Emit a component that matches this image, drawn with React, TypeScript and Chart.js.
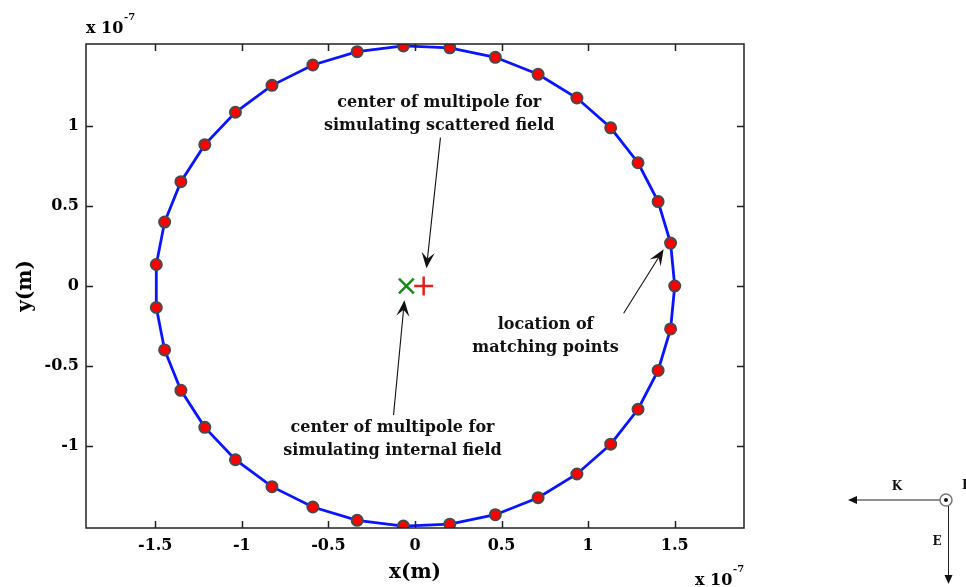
import React, { useEffect, useRef } from "react";
import { Chart, registerables } from "chart.js";

Chart.register(...registerables);

// Axis ticks (units of 1e-7 m)
const X_TICKS = [-1.5, -1, -0.5, 0, 0.5, 1, 1.5];
const Y_TICKS = [-1, -0.5, 0, 0.5, 1];
const X_RANGE = [-1.9, 1.9];
const Y_RANGE = [-1.51, 1.51];

// Matching points on the particle surface (x 1e-7 m)
const MATCH_X = [
  1.5, 1.476, 1.404, 1.288, 1.13, 0.935, 0.711, 0.464, 0.201, -0.067, -0.334, -0.59,
  -0.826, -1.037, -1.214, -1.352, -1.446, -1.494, -1.494, -1.446, -1.352, -1.214,
  -1.037, -0.826, -0.59, -0.334, -0.067, 0.201, 0.464, 0.711, 0.935, 1.13, 1.288,
  1.404, 1.476,
];
const MATCH_Y = [
  0, 0.268, 0.527, 0.769, 0.987, 1.173, 1.321, 1.427, 1.486, 1.498, 1.462, 1.379,
  1.252, 1.084, 0.882, 0.651, 0.399, 0.134, -0.134, -0.399, -0.651, -0.882, -1.084,
  -1.252, -1.379, -1.462, -1.498, -1.486, -1.427, -1.321, -1.173, -0.987, -0.769,
  -0.527, -0.268,
];

// Multipole centres
const SCATTERED_CENTER = { x: 0.05, y: 0 };
const INTERNAL_CENTER = { x: -0.05, y: 0 };

const FONT = '"DejaVu Serif", "Liberation Serif", serif';

type Note = { lines: string[]; x: number; y: number };
type Arr = { x1: number; y1: number; x2: number; y2: number };

const NOTES: Note[] = [
  { lines: ["center of multipole for", "simulating scattered field"], x: 0.14, y: 1.143 },
  { lines: ["location of", "matching points"], x: 0.754, y: -0.245 },
  { lines: ["center of multipole for", "simulating internal field"], x: -0.13, y: -0.887 },
];
const ARROWS: Arr[] = [
  { x1: 0.147, y1: 0.926, x2: 0.066, y2: 0.11 },
  { x1: 1.205, y1: -0.17, x2: 1.436, y2: 0.229 },
  { x1: -0.124, y1: -0.806, x2: -0.061, y2: -0.089 },
];

function barbedArrow(ctx: CanvasRenderingContext2D, x1: number, y1: number, x2: number, y2: number) {
  const a = Math.atan2(y2 - y1, x2 - x1);
  const L = 16;
  const W = 6.5;
  const N = 0.6;
  const c = Math.cos(a);
  const s = Math.sin(a);
  ctx.beginPath();
  ctx.moveTo(x1, y1);
  ctx.lineTo(x2 - N * L * c, y2 - N * L * s);
  ctx.stroke();
  ctx.beginPath();
  ctx.moveTo(x2, y2);
  ctx.lineTo(x2 - L * c + W * s, y2 - L * s - W * c);
  ctx.lineTo(x2 - N * L * c, y2 - N * L * s);
  ctx.lineTo(x2 - L * c - W * s, y2 - L * s + W * c);
  ctx.closePath();
  ctx.fill();
}

function simpleArrow(ctx: CanvasRenderingContext2D, x1: number, y1: number, x2: number, y2: number) {
  const a = Math.atan2(y2 - y1, x2 - x1);
  const L = 9;
  const W = 4;
  const c = Math.cos(a);
  const s = Math.sin(a);
  ctx.beginPath();
  ctx.moveTo(x1, y1);
  ctx.lineTo(x2 - L * c, y2 - L * s);
  ctx.stroke();
  ctx.beginPath();
  ctx.moveTo(x2, y2);
  ctx.lineTo(x2 - L * c + W * s, y2 - L * s - W * c);
  ctx.lineTo(x2 - L * c - W * s, y2 - L * s + W * c);
  ctx.closePath();
  ctx.fill();
}

const decorPlugin = {
  id: "decor",
  afterDraw(chart: any) {
    const ctx: CanvasRenderingContext2D = chart.ctx;
    const xs = chart.scales.x;
    const ys = chart.scales.y;
    const { left, right, top, bottom } = chart.chartArea;
    ctx.save();

    // box + inward ticks
    ctx.strokeStyle = "#222";
    ctx.lineWidth = 1.5;
    ctx.strokeRect(left, top, right - left, bottom - top);
    ctx.beginPath();
    const tl = 7;
    X_TICKS.forEach((v) => {
      const p = Math.round(xs.getPixelForValue(v)) + 0.5;
      ctx.moveTo(p, bottom);
      ctx.lineTo(p, bottom - tl);
      ctx.moveTo(p, top);
      ctx.lineTo(p, top + tl);
    });
    Y_TICKS.forEach((v) => {
      const p = Math.round(ys.getPixelForValue(v)) + 0.5;
      ctx.moveTo(left, p);
      ctx.lineTo(left + tl, p);
      ctx.moveTo(right, p);
      ctx.lineTo(right - tl, p);
    });
    ctx.stroke();

    // annotations
    ctx.fillStyle = "#111";
    ctx.strokeStyle = "#111";
    ctx.lineWidth = 1.1;
    ctx.font = `bold 16px ${FONT}`;
    ctx.textAlign = "center";
    ctx.textBaseline = "middle";
    NOTES.forEach((n) => {
      const px = xs.getPixelForValue(n.x);
      const py = ys.getPixelForValue(n.y);
      n.lines.forEach((t, i) => ctx.fillText(t, px, py + i * 23));
    });
    ARROWS.forEach((a) => {
      barbedArrow(
        ctx,
        xs.getPixelForValue(a.x1),
        ys.getPixelForValue(a.y1),
        xs.getPixelForValue(a.x2),
        ys.getPixelForValue(a.y2)
      );
    });

    // exponent labels
    ctx.fillStyle = "#000";
    ctx.textAlign = "left";
    ctx.font = `bold 16px ${FONT}`;
    ctx.fillText("x 10", left, top - 15);
    ctx.font = `bold 10px ${FONT}`;
    ctx.fillText("-7", left + 38, top - 27);
    ctx.font = `bold 16px ${FONT}`;
    ctx.fillText("x 10", 695, 581);
    ctx.font = `bold 10px ${FONT}`;
    ctx.fillText("-7", 733, 569);

    // axis titles
    ctx.font = `bold 20px ${FONT}`;
    ctx.textAlign = "center";
    ctx.fillText("x(m)", (left + right) / 2, 573);
    ctx.save();
    ctx.translate(26, (top + bottom) / 2);
    ctx.rotate(-Math.PI / 2);
    ctx.fillText("y(m)", 0, 0);
    ctx.restore();

    // K / E polarisation sketch
    ctx.strokeStyle = "#222";
    ctx.fillStyle = "#111";
    ctx.lineWidth = 1;
    simpleArrow(ctx, 940, 500, 848, 500);
    simpleArrow(ctx, 948.5, 506, 948.5, 584);
    ctx.beginPath();
    ctx.arc(946, 500, 6, 0, Math.PI * 2);
    ctx.fillStyle = "#fff";
    ctx.fill();
    ctx.strokeStyle = "#777";
    ctx.lineWidth = 1.5;
    ctx.stroke();
    ctx.beginPath();
    ctx.arc(946, 500, 2, 0, Math.PI * 2);
    ctx.fillStyle = "#111";
    ctx.fill();
    ctx.font = `bold 12px ${FONT}`;
    ctx.textAlign = "center";
    ctx.fillText("K", 897, 487);
    ctx.fillText("E", 937, 542);
    ctx.textAlign = "left";
    ctx.fillText("H", 962, 486);

    ctx.restore();
  },
};

export default function App() {
  const ref = useRef<HTMLCanvasElement | null>(null);

  useEffect(() => {
    document.body.style.margin = "0";
    const canvas = ref.current;
    if (!canvas) return;

    const markers = MATCH_X.map((x, i) => ({ x, y: MATCH_Y[i] }));
    const loop = [...markers, markers[0]];

    const chart = new Chart(canvas, {
      type: "scatter",
      data: {
        datasets: [
          {
            label: "scattered centre",
            data: [SCATTERED_CENTER],
            pointStyle: "cross",
            pointRadius: 9.5,
            borderColor: "#e0201a",
            backgroundColor: "#e0201a",
            pointBorderWidth: 2.5,
            order: 0,
          },
          {
            label: "internal centre",
            data: [INTERNAL_CENTER],
            pointStyle: "crossRot",
            pointRadius: 10.5,
            borderColor: "#1a8a1a",
            backgroundColor: "#1a8a1a",
            pointBorderWidth: 2.5,
            order: 0,
          },
          {
            label: "matching points",
            data: markers,
            pointStyle: "circle",
            pointRadius: 5.5,
            backgroundColor: "#ff0000",
            borderColor: "#4a4a4a",
            pointBorderWidth: 2,
            showLine: false,
            order: 1,
          },
          {
            label: "surface",
            data: loop,
            showLine: true,
            pointRadius: 0,
            borderColor: "#0a14ff",
            borderWidth: 2.8,
            tension: 0,
            order: 2,
          },
        ],
      },
      options: {
        responsive: false,
        animation: false,
        devicePixelRatio: 1,
        layout: { padding: { left: 0, top: 44, right: 222, bottom: 0 } },
        plugins: {
          legend: { display: false },
          tooltip: { enabled: false },
          title: { display: false },
        },
        scales: {
          x: {
            type: "linear",
            min: X_RANGE[0],
            max: X_RANGE[1],
            grid: { display: false, drawTicks: false },
            border: { display: false },
            afterBuildTicks: (s: any) => {
              s.ticks = X_TICKS.map((v) => ({ value: v }));
            },
            afterFit: (s: any) => {
              s.height = 59;
            },
            ticks: {
              padding: 8,
              color: "#000",
              font: { family: FONT, size: 16, weight: "bold" },
              callback: (v: any) => String(v),
              maxRotation: 0,
              autoSkip: false,
            },
          },
          y: {
            type: "linear",
            min: Y_RANGE[0],
            max: Y_RANGE[1],
            grid: { display: false, drawTicks: false },
            border: { display: false },
            afterBuildTicks: (s: any) => {
              s.ticks = Y_TICKS.map((v) => ({ value: v }));
            },
            afterFit: (s: any) => {
              s.width = 86;
            },
            ticks: {
              padding: 7,
              color: "#000",
              font: { family: FONT, size: 16, weight: "bold" },
              callback: (v: any) => String(v),
              autoSkip: false,
            },
          },
        },
      },
      plugins: [decorPlugin],
    });

    return () => chart.destroy();
  }, []);

  return (
    <div style={{ position: "fixed", left: 0, top: 0, width: 966, height: 587, background: "#fff" }}>
      <canvas ref={ref} width={966} height={587} style={{ display: "block", width: 966, height: 587 }} />
    </div>
  );
}
